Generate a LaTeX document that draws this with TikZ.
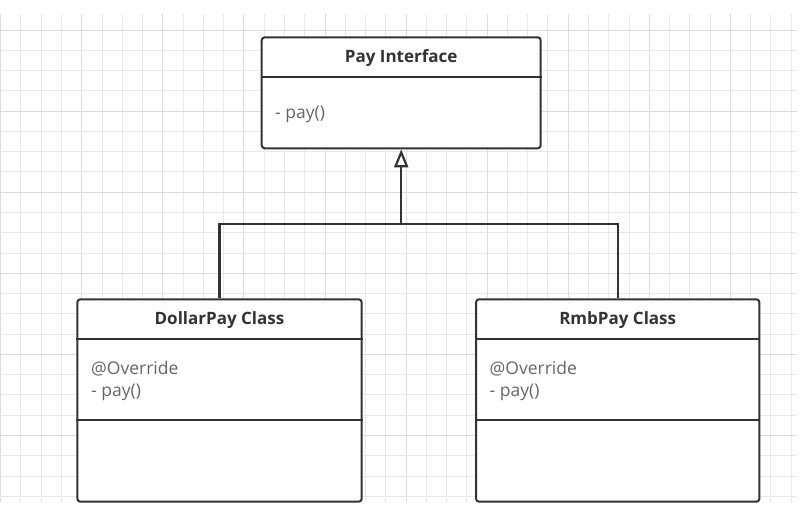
\documentclass[tikz,border=0pt]{standalone}
\usepackage{fontspec}
\setmainfont{Open Sans}
\usetikzlibrary{arrows.meta,calc}
\definecolor{gridc}{HTML}{E8E8E8}
\definecolor{gridm}{HTML}{DDDDDD}
\definecolor{linec}{HTML}{333333}
\definecolor{titlec}{HTML}{333333}
\definecolor{bodyc}{HTML}{666666}
\tikzset{
  umlbox/.style={draw=linec, line width=2pt, rounded corners=3pt, fill=white, inner sep=0pt},
  divider/.style={draw=linec, line width=2pt},
  titletext/.style={font=\fontsize{17}{20}\selectfont\bfseries, text=titlec, inner sep=0pt},
  bodytext/.style={font=\fontsize{17.5}{22.7}\selectfont, text=bodyc, inner sep=0pt, align=left, anchor=west},
  conn/.style={draw=linec, line width=2.2pt},
}
\begin{document}
\begin{tikzpicture}[x=1pt,y=-1pt]
\useasboundingbox (0,0) rectangle (804,519);
\fill[white] (0,0) rectangle (804,519);
% grid
\begin{scope}
\clip (0,14) rectangle (797,502);
\foreach \k in {0,...,39} {
  \pgfmathsetmacro{\xx}{0.7+20.27*\k}
  \pgfmathtruncatemacro{\m}{mod(\k,4)}
  \ifnum\m=0 \draw[gridm, line width=1pt] (\xx,14) -- (\xx,502);
  \else \draw[gridc, line width=1pt] (\xx,14) -- (\xx,502); \fi
}
\foreach \k in {0,...,24} {
  \pgfmathsetmacro{\yy}{9.8+20.27*\k}
  \pgfmathtruncatemacro{\m}{mod(\k,4)}
  \ifnum\m=1 \draw[gridm, line width=1pt] (0,\yy) -- (797,\yy);
  \else \draw[gridc, line width=1pt] (0,\yy) -- (797,\yy); \fi
}
\end{scope}
% Pay Interface
\node[umlbox, minimum width=279pt, minimum height=111pt] (pay) at (401.2,92.8) {};
\draw[divider] ($(pay.north west)+(0,41)$) -- ($(pay.north east)+(0,41)$);
\node[titletext] (paytitle) at (401.2,58.3) {Pay Interface};
\node[bodytext] (paybody) at (275,114) {- pay()};
% DollarPay
\node[umlbox, minimum width=284.4pt, minimum height=202.4pt] (dollar) at (219.5,400.5) {};
\draw[divider] ($(dollar.north west)+(0,40.7)$) -- ($(dollar.north east)+(0,40.7)$);
\draw[divider] ($(dollar.north west)+(0,121.4)$) -- ($(dollar.north east)+(0,121.4)$);
\node[titletext] (dollartitle) at (219.5,320) {DollarPay Class};
\node[bodytext] (dollarbody) at (91,381) {@Override\\- pay()};
% RmbPay
\node[umlbox, minimum width=283.3pt, minimum height=202.4pt] (rmb) at (617.7,400.5) {};
\draw[divider] ($(rmb.north west)+(0,40.7)$) -- ($(rmb.north east)+(0,40.7)$);
\draw[divider] ($(rmb.north west)+(0,121.4)$) -- ($(rmb.north east)+(0,121.4)$);
\node[titletext] (rmbtitle) at (617.7,320) {RmbPay Class};
\node[bodytext] (rmbbody) at (489.5,381) {@Override\\- pay()};
% connectors
\coordinate (join) at (pay.south |- 0,224);
\draw[conn] (dollar.north) |- (join) -| (rmb.north);
\draw[conn, -{Triangle[open, length=18pt, width=14pt, line width=2.2pt]}] (join) -- (pay.south);
\end{tikzpicture}
\end{document}
